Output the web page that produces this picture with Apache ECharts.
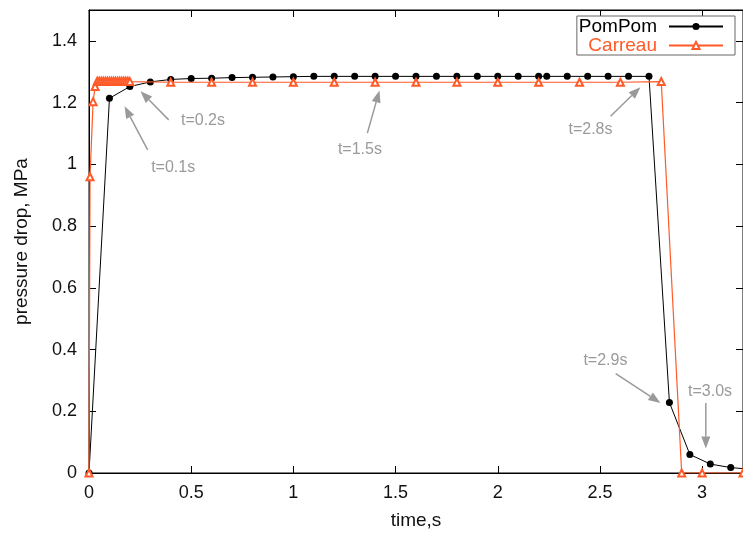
<!DOCTYPE html>
<html><head><meta charset="utf-8">
<script src="https://cdn.jsdelivr.net/npm/echarts@6/dist/echarts.min.js"></script>
<style>html,body{margin:0;padding:0;background:#fff}#c{width:743px;height:539px}</style>
</head><body><div id="c"></div>
<script>
// ---- data ----
const pomTime = [0, 0.1, 0.2, 0.3, 0.4, 0.5, 0.6, 0.7, 0.8, 0.9, 1.0, 1.1, 1.2, 1.3, 1.4, 1.5, 1.6, 1.7, 1.8, 1.9, 2.0, 2.1, 2.2,
  2.24, 2.34, 2.44, 2.54, 2.64, 2.74, 2.84, 2.94, 3.04, 3.14, 3.24];
const pomDrop = [0, 1.214, 1.252, 1.267, 1.275, 1.278, 1.279, 1.281, 1.282, 1.283, 1.284, 1.285, 1.285, 1.285, 1.285, 1.285, 1.285, 1.285, 1.285, 1.285, 1.285, 1.285, 1.285,
  1.285, 1.285, 1.285, 1.285, 1.285, 1.285, 0.228, 0.060, 0.029, 0.0175, 0.012];
const carTime = [0, 0.005, 0.02, 0.03, 0.04, 0.05, 0.06, 0.07, 0.08, 0.09, 0.10, 0.11, 0.12, 0.13, 0.14, 0.15, 0.16, 0.17, 0.18, 0.19,
  0.2, 0.4, 0.6, 0.8, 1.0, 1.2, 1.4, 1.6, 1.8, 2.0, 2.2, 2.4, 2.6, 2.8, 2.9, 3.0, 3.2];
const carDrop = [0, 0.96, 1.203, 1.252, 1.269, 1.269, 1.269, 1.269, 1.269, 1.269, 1.269, 1.269, 1.269, 1.269, 1.269, 1.269, 1.269, 1.269, 1.269, 1.269,
  1.268, 1.266, 1.266, 1.266, 1.266, 1.266, 1.266, 1.266, 1.266, 1.266, 1.266, 1.266, 1.266, 1.268, 0, 0, 0];
const seriesNames = ['PomPom', 'Carreau'];
const xTickStep = 0.5, yTickStep = 0.2;
const xRange = [0, 3.2], yRange = [0, 1.5];
const noteTexts = ['t=0.1s', 't=0.2s', 't=1.5s', 't=2.8s', 't=2.9s', 't=3.0s'];
// annotation anchors in data units: text left-middle, arrow tail, arrow head
const noteTextAt = [[0.304, 0.991], [0.45, 1.142], [1.218, 1.047], [2.346, 1.112], [2.419, 0.365], [2.931, 0.264]];
const noteFrom = [[0.287, 1.047], [0.390, 1.144], [1.362, 1.101], [2.552, 1.156], [2.577, 0.322], [3.018, 0.227]];
const noteTo = [[0.174, 1.188], [0.252, 1.237], [1.421, 1.239], [2.698, 1.250], [2.796, 0.227], [3.018, 0.079]];

const FONT = '"Liberation Sans", Arial, Helvetica, sans-serif';
const ORANGE = '#ff5a28';
const zip = (a, b) => a.map((v, i) => [v, b[i]]);

const chart = echarts.init(document.getElementById('c'), null, {renderer: 'canvas'});
const axisCommon = {
  type: 'value', splitLine: {show: false},
  axisLine: {show: true, onZero: false, lineStyle: {color: '#000', width: 1}},
  axisTick: {show: true, inside: true, length: 7, lineStyle: {color: '#000', width: 1}}
};
const option = {
  animation: false,
  backgroundColor: '#fff',
  textStyle: {fontFamily: FONT},
  grid: {left: 89, top: 10, width: 657, height: 463, show: true, borderColor: '#000', borderWidth: 1, backgroundColor: 'transparent'},
  xAxis: [
    Object.assign({}, axisCommon, {
      min: xRange[0], max: xRange[1], interval: xTickStep, position: 'bottom',
      axisLabel: {fontSize: 18, color: '#111', margin: 11, showMaxLabel: false, fontFamily: FONT},
      name: 'time,s', nameLocation: 'middle', nameGap: 38,
      nameTextStyle: {fontSize: 19, color: '#111', fontFamily: FONT}
    }),
    Object.assign({}, axisCommon, {
      min: xRange[0], max: xRange[1], interval: xTickStep, position: 'top',
      axisLabel: {show: false}
    })
  ],
  yAxis: [
    Object.assign({}, axisCommon, {
      min: yRange[0], max: yRange[1], interval: yTickStep, position: 'left',
      axisLabel: {fontSize: 18, color: '#111', margin: 12, showMaxLabel: false, fontFamily: FONT},
      name: 'pressure drop, MPa', nameLocation: 'middle', nameGap: 58,
      nameTextStyle: {fontSize: 19, color: '#111', fontFamily: FONT}
    }),
    Object.assign({}, axisCommon, {
      min: yRange[0], max: yRange[1], interval: yTickStep, position: 'right',
      axisLabel: {show: false}
    })
  ],
  legend: {
    orient: 'vertical', right: 8, top: 16, align: 'right',
    itemWidth: 54, itemHeight: 9, itemGap: 0,
    borderColor: '#666', borderWidth: 1, backgroundColor: '#fff',
    padding: [1, 11, 0, 2],
    textStyle: {fontSize: 19, lineHeight: 19, width: 78, align: 'right', padding: [0, 7, 0, 0], fontFamily: FONT},
    data: [
      {name: seriesNames[0], textStyle: {color: '#000'}},
      {name: seriesNames[1], textStyle: {color: ORANGE}}
    ]
  },
  series: [
    {
      name: seriesNames[0], type: 'line', data: zip(pomTime, pomDrop),
      symbol: 'circle', symbolSize: 7, showAllSymbol: true,
      itemStyle: {color: '#000'}, lineStyle: {color: '#000', width: 1}, z: 3
    },
    {
      name: seriesNames[1], type: 'line', data: zip(carTime, carDrop),
      symbol: 'emptyTriangle', symbolSize: 7, showAllSymbol: true,
      itemStyle: {color: ORANGE, borderWidth: 1}, lineStyle: {color: ORANGE, width: 1.2}, z: 4
    }
  ]
};
chart.setOption(option);

// annotations (gray arrows + labels)
const px = p => chart.convertToPixel({gridIndex: 0}, p);
const GRAY = '#9a9a9a';
const els = [];
noteTexts.forEach((t, i) => {
  const a = px(noteFrom[i]), b = px(noteTo[i]), tp = px(noteTextAt[i]);
  const dx = b[0] - a[0], dy = b[1] - a[1], L = Math.hypot(dx, dy);
  const ux = dx / L, uy = dy / L, hl = 12, hw = 4.5;
  const bx = b[0] - ux * hl, by = b[1] - uy * hl;
  els.push({type: 'line', silent: true, z: 10,
    shape: {x1: a[0], y1: a[1], x2: bx, y2: by},
    style: {stroke: GRAY, lineWidth: 1.5}});
  els.push({type: 'polygon', silent: true, z: 10,
    shape: {points: [[b[0], b[1]], [bx - uy * hw, by + ux * hw], [bx + uy * hw, by - ux * hw]]},
    style: {fill: GRAY}});
  els.push({type: 'text', silent: true, z: 10, x: tp[0], y: tp[1],
    style: {text: t, fill: GRAY, fontSize: 16, fontFamily: FONT, align: 'left', verticalAlign: 'middle'}});
});
chart.setOption({graphic: els});
</script>
</body></html>
